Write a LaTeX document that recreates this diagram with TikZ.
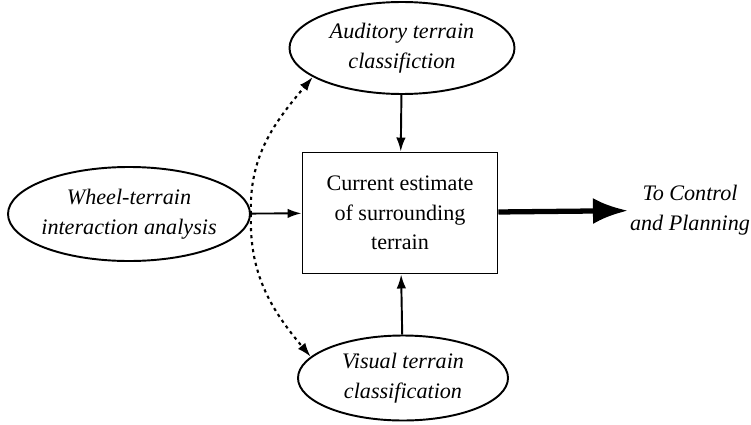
\documentclass[tikz,border=0pt]{standalone}
\usepackage{fontspec}
\setmainfont{Liberation Serif}
\usetikzlibrary{shapes.geometric,arrows.meta}

\tikzset{
  source/.style = {draw, ellipse, line width=1.1pt, inner sep=0pt, align=center, font=\fontsize{12.6}{16.8}\selectfont\itshape},
  estimate/.style = {draw, rectangle, line width=1.1pt, align=center, font=\fontsize{12.6}{16.8}\selectfont},
  feed/.style = {line width=1.1pt, -{Latex[length=0.28cm, width=0.19cm]}},
  hint/.style = {line width=1.2pt, dash pattern=on 1.8pt off 2.2pt, -{Latex[length=0.28cm, width=0.19cm]}}
}

\begin{document}
\begin{tikzpicture}
    \useasboundingbox (0,0) rectangle (15.02,8.48);

    \node[source, minimum width=4.5cm, minimum height=1.84cm] (auditory) at (8.04, 7.52) {Auditory terrain\\classifiction};
    \node[source, inner xsep=-2pt, minimum width=4.84cm, minimum height=1.88cm] (wheel) at (2.58, 4.2) {Wheel-terrain\\interaction analysis};
    \node[estimate, minimum width=3.9cm, minimum height=2.42cm] (current) at (8.0, 4.22) {Current estimate\\of surrounding\\terrain};
    \node[source, minimum width=4.2cm, minimum height=1.7cm] (visual) at (8.06, 0.92) {Visual terrain\\classification};
    \node[align=center, inner sep=1pt, font=\fontsize{12.6}{16.8}\selectfont\itshape] (planning) at (13.8, 4.28) {To Control\\and Planning};

    \draw [feed] (auditory) -- (current);
    \draw [feed] (visual) -- (current);
    \draw [feed] (wheel) -- (current);
    \draw [line width=3pt, -{Latex[length=0.7cm, width=0.52cm]}] (current) -- (planning);

    \draw [hint] (wheel.east) to[out=92, in=230] (auditory.198);
    \draw [hint] (wheel.east) to[out=-92, in=130] (visual.167);
\end{tikzpicture}
\end{document}
